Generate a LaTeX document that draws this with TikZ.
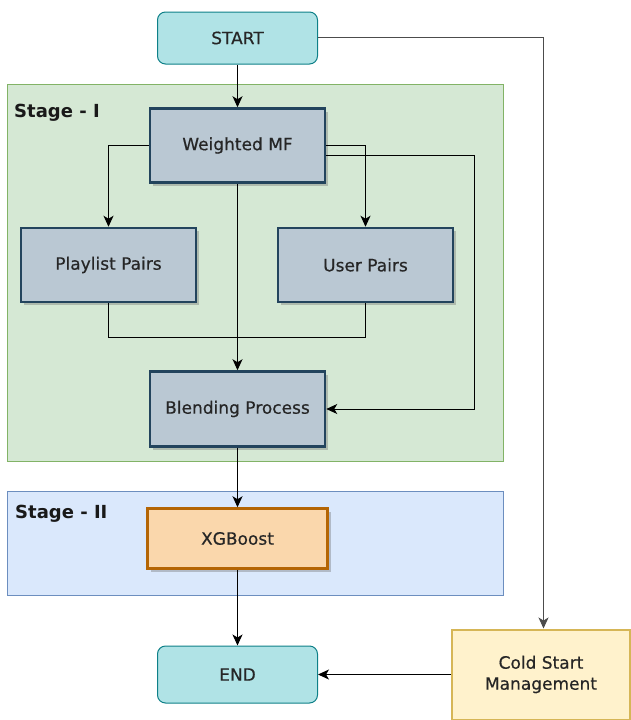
\documentclass[tikz,border=0pt]{standalone}
\usepackage{fontspec}
\newfontfamily\df[FakeBold=0.5]{DejaVu Sans}
\newfontfamily\dfb{DejaVu Sans}
\usetikzlibrary{arrows.meta,shadows}
\definecolor{tealfill}{HTML}{B0E3E6}
\definecolor{tealdraw}{HTML}{0E8088}
\definecolor{greenfill}{HTML}{D5E8D4}
\definecolor{greendraw}{HTML}{82B366}
\definecolor{bluefill}{HTML}{DAE8FC}
\definecolor{bluedraw}{HTML}{6C8EBF}
\definecolor{slatefill}{HTML}{BAC8D3}
\definecolor{slatedraw}{HTML}{23445D}
\definecolor{orangefill}{HTML}{FAD7AC}
\definecolor{orangedraw}{HTML}{B46504}
\definecolor{yellowfill}{HTML}{FFF2CC}
\definecolor{yellowdraw}{HTML}{D6B656}
\tikzset{
  txt/.style={font=\df\fontsize{17}{21}\selectfont, text=black!85, align=center},
  terminal/.style={txt, draw=tealdraw, fill=tealfill, line width=1pt, rounded corners=8pt, minimum width=160pt, minimum height=52pt, inner sep=0pt},
  procbox/.style={txt, draw=slatedraw, fill=slatefill, line width=2.5pt, minimum width=175pt, minimum height=74pt, inner sep=0pt,
    drop shadow={shadow xshift=3pt, shadow yshift=-3pt, opacity=0.35, fill=black!60}},
  xgbox/.style={txt, draw=orangedraw, fill=orangefill, line width=2.5pt, minimum width=180pt, minimum height=60pt, inner sep=0pt,
    drop shadow={shadow xshift=3pt, shadow yshift=-3pt, opacity=0.35, fill=black!60}},
  coldbox/.style={txt, draw=yellowdraw, fill=yellowfill, line width=2pt, minimum width=178pt, minimum height=90pt, inner sep=0pt},
  stagelbl/.style={font=\dfb\bfseries\fontsize{18}{22}\selectfont, text=black!90, anchor=west, inner sep=0pt},
  conn/.style={draw=black, line width=1pt},
  arr/.style={conn, -{Stealth[length=11pt,width=10pt,inset=3pt]}}
}
\begin{document}
\begin{tikzpicture}[x=1pt,y=-1pt]
\useasboundingbox (0,0) rectangle (631,720);
% stage backgrounds
\draw[fill=greenfill, draw=greendraw, line width=1.2pt] (7.5,84.5) rectangle (503.5,461.5);
\node[stagelbl] (s1) at (14,113) {Stage - I};
\draw[fill=bluefill, draw=bluedraw, line width=1.2pt] (7.5,491.5) rectangle (503.5,595.5);
\node[stagelbl] (s2) at (15,514) {Stage - II};
% nodes
\node[terminal] (start) at (237.5,38) {START};
\node[procbox] (mf) at (237.5,145.5) {Weighted MF};
\node[procbox] (pl) at (108.5,265) {Playlist Pairs};
\node[procbox] (up) at (365.5,265) {User Pairs};
\node[procbox, minimum height=75pt] (bl) at (237.5,409) {Blending Process};
\node[xgbox] (xg) at (237.5,538.5) {XGBoost};
\node[terminal, minimum height=57pt] (end) at (237.5,674.5) {END};
\node[coldbox] (cold) at (541,674.5) {Cold Start\\Management};
% helper coordinates
\coordinate (r1) at (474.5,155.5);
\coordinate (j) at (237.5,337.5);
\coordinate (c1) at (543.5,37.5);
% connectors
\draw[arr, draw=black!70] (start.east |- c1) -- (c1) -- (c1 |- cold.north);
\draw[arr] (start) -- (mf);
\draw[arr] (mf.west) -| (pl.north);
\draw[arr] (mf.east) -| (up.north);
\draw[arr] (mf.east |- r1) -- (r1) |- (bl.east);
\draw[conn] (pl.south) |- (j) -| (up.south);
\draw[arr] (mf) -- (bl);
\draw[arr] (bl) -- (xg);
\draw[arr] (xg) -- (end);
\draw[arr] (cold) -- (end);
\end{tikzpicture}
\end{document}
